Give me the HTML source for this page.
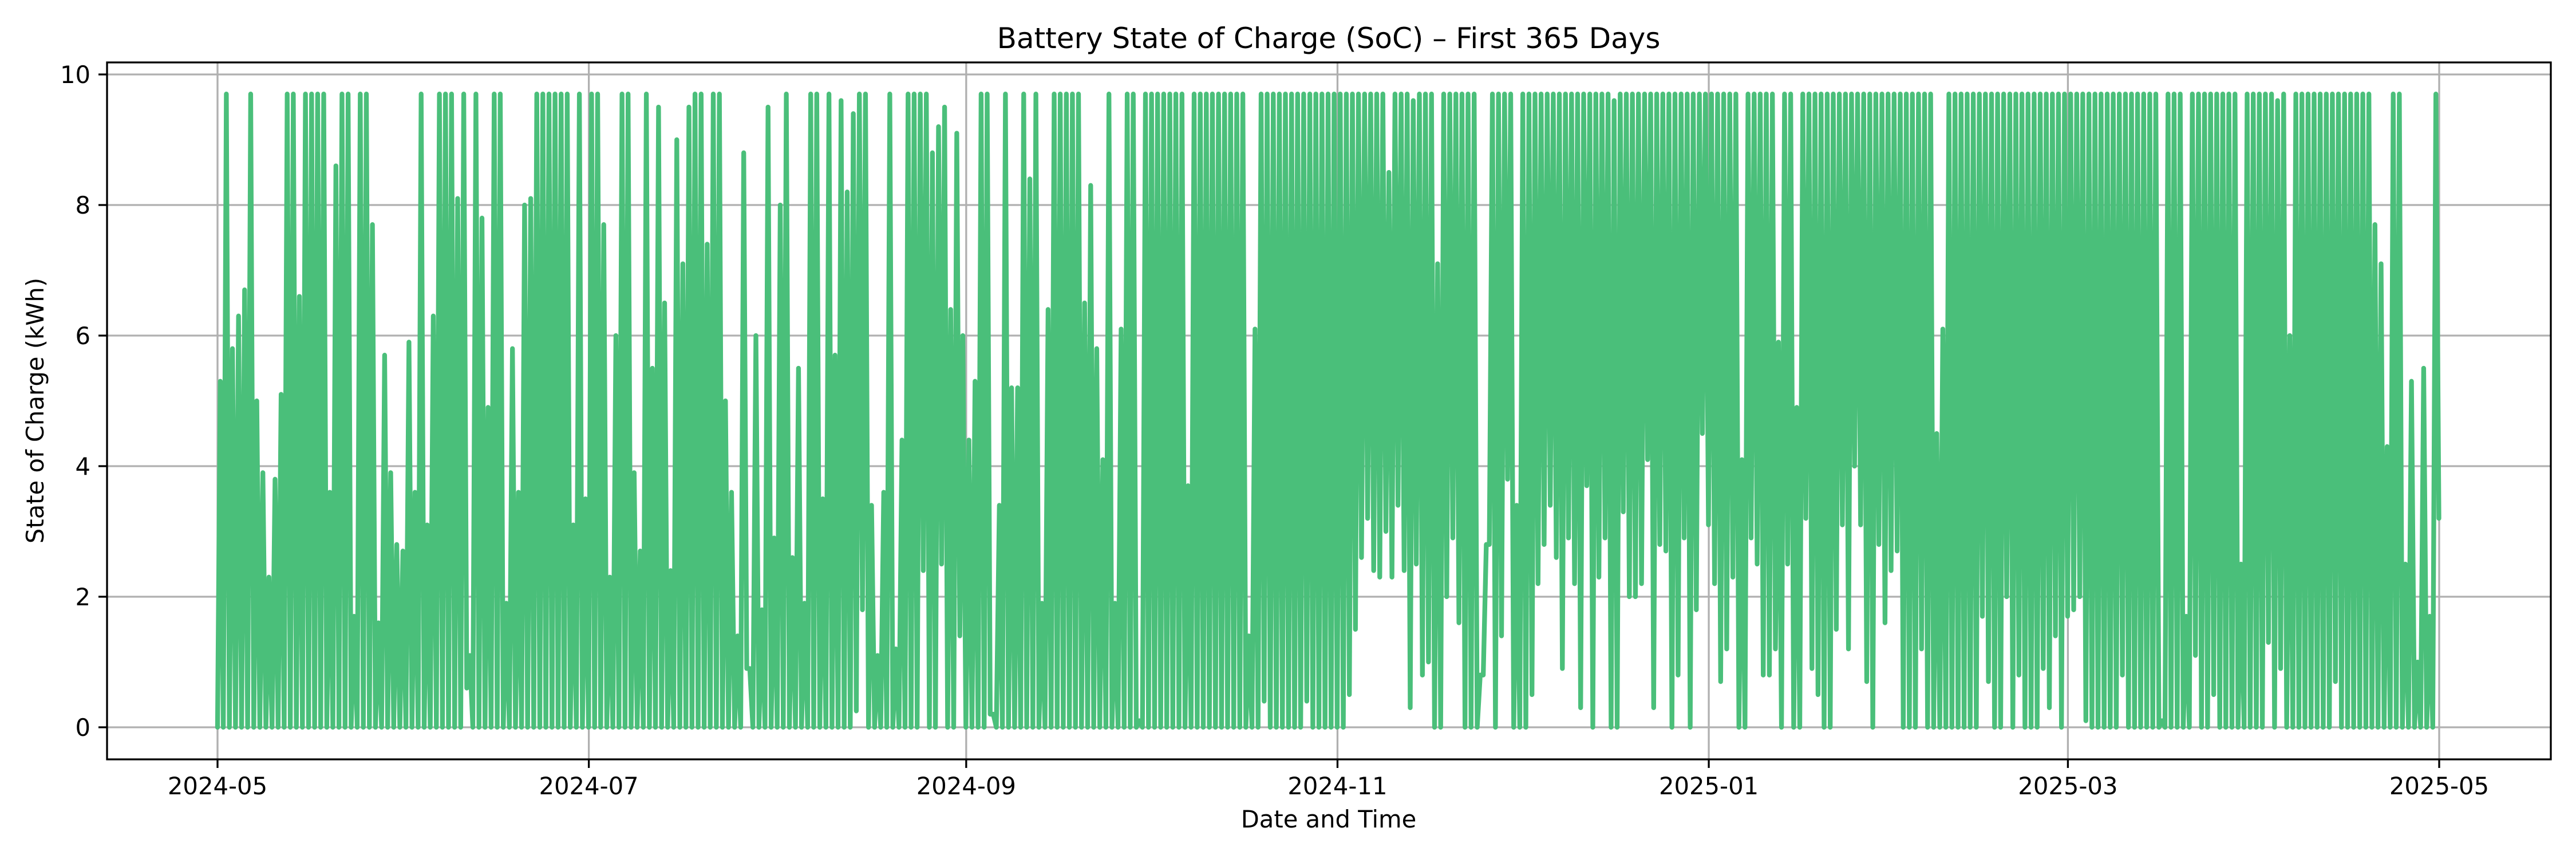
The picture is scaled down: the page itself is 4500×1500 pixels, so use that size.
<!DOCTYPE html>
<html><head><meta charset="utf-8">
<style>
html,body{margin:0;padding:0;background:#fff;}
svg{display:block;font-family:"DejaVu Sans","Liberation Sans",sans-serif;}
</style></head>
<body>
<svg id="chart" width="4500" height="1500" viewBox="0 0 4500 1500" xmlns="http://www.w3.org/2000/svg">
  <rect x="0" y="0" width="4500" height="1500" fill="#ffffff"/>
  <g id="grid"></g>
  <g id="series"></g>
  <rect x="187" y="109" width="4269" height="1217" fill="none" stroke="#000" stroke-width="3.3"/>
  <g id="ticks"></g>
  <text x="2321" y="84" font-size="50" text-anchor="middle">Battery State of Charge (SoC) – First 365 Days</text>
  <text x="2321" y="1445" font-size="41.7" text-anchor="middle">Date and Time</text>
  <text x="0" y="0" font-size="41.7" text-anchor="middle" transform="translate(76,717) rotate(-90)">State of Charge (kWh)</text>
</svg>
<script>
const dailyPeak = [
5.3,9.7,5.8,6.3,6.7,9.7,5.0,3.9,2.3,3.8,
5.1,9.7,9.7,6.6,9.7,9.7,9.7,9.7,3.6,8.6,
9.7,9.7,1.7,9.7,9.7,7.7,1.6,5.7,3.9,2.8,
2.7,5.9,3.6,9.7,3.1,6.3,9.7,9.7,9.7,8.1,
9.7,1.1,9.7,7.8,4.9,9.7,9.7,1.9,5.8,3.6,
8.0,8.1,9.7,9.7,9.7,9.7,9.7,9.7,3.1,9.7,
3.5,9.7,9.7,7.7,2.3,6.0,9.7,9.7,3.9,2.7,
9.7,5.5,9.5,6.5,2.4,9.0,7.1,9.5,9.7,9.7,
7.4,9.7,9.7,5.0,3.6,1.4,8.8,0.9,6.0,1.8,
9.5,2.9,8.0,9.7,2.6,5.5,1.9,9.7,9.7,3.5,
9.7,5.7,9.6,8.2,9.4,9.7,9.7,3.4,1.1,3.6,
9.7,1.2,4.4,9.7,9.7,9.7,9.7,8.8,9.2,9.5,
6.4,9.1,6.0,4.4,5.3,9.7,9.7,0.2,3.4,9.7,
5.2,5.2,9.7,8.4,9.7,1.9,6.4,9.7,9.7,9.7,
9.7,9.7,6.5,8.3,5.8,4.1,9.7,1.9,6.1,9.7,
9.7,0.1,9.7,9.7,9.7,9.7,9.7,9.7,9.7,3.7,
9.7,9.7,9.7,9.7,9.7,9.7,9.7,9.7,9.7,1.4,
6.1,9.7,9.7,9.7,9.7,9.7,9.7,9.7,9.7,9.7,
9.7,9.7,9.7,9.7,9.7,9.7,9.7,9.7,9.7,9.7,
9.7,9.7,8.5,9.7,9.7,9.7,9.6,9.7,9.7,9.7,
7.1,9.7,9.7,9.7,9.7,9.7,9.7,0.8,2.8,9.7,
9.7,9.7,9.7,3.4,9.7,9.7,9.7,9.7,9.7,9.7,
9.7,9.7,9.7,9.7,9.7,9.7,9.7,9.7,9.7,9.6,
9.7,9.7,9.7,9.7,9.7,9.7,9.7,9.7,9.7,9.7,
9.7,9.7,9.7,9.7,9.7,9.7,9.7,9.7,9.7,9.7,
4.1,9.7,9.7,9.7,9.7,9.7,5.9,9.7,9.7,4.9,
9.7,9.7,9.7,9.7,9.7,9.7,9.7,9.7,9.7,9.7,
9.7,9.7,9.7,9.7,9.7,9.7,9.7,9.7,9.7,9.7,
9.7,9.7,4.5,6.1,9.7,9.7,9.7,9.7,9.7,9.7,
9.7,9.7,9.7,9.7,9.7,9.7,9.7,9.7,9.7,9.7,
9.7,9.7,9.7,9.7,9.7,9.7,9.7,9.7,9.7,9.7,
9.7,9.7,9.7,9.7,9.7,9.7,9.7,9.7,9.7,0.1,
9.7,9.7,9.7,1.7,9.7,9.7,9.7,9.7,9.7,9.7,
9.7,9.7,2.5,9.7,9.7,9.7,9.7,9.7,9.6,9.7,
6.0,9.7,9.7,9.7,9.7,9.7,9.7,9.7,9.7,9.7,
9.7,9.7,9.7,9.7,7.7,7.1,4.3,9.7,9.7,2.5,
5.3,1.0,5.5,1.7,9.7
];
const dailyTrough = [
0,0,0,0,0,0,0,0,0,0,
0,0,0,0,0,0,0,0,0,0,
0,0,0,0,0,0,0,0,0,0,
0,0,0,0,0,0,0,0,0,0,
0.6,0,0,0,0,0,0,0,0,0,
0,0,0,0,0,0,0,0,0,0,
0,0,0,0,0,0,0,0,0,0,
0,0,0,0,0,0,0,0,0,0,
0,0,0,0,0,0,0.9,0,0,0,
0,0,0,0,0,0,0,0,0,0,
0,0,0,0,0.25,1.8,0,0,0,0,
0,0,0,0,0,2.4,0,0,2.5,0,
0,1.4,0,0,0,0,0.2,0,0,0,
0,0,0,0,0,0,0,0,0,0,
0,0,0,0,0,0,0,0,0,0,
0,0,0,0,0,0,0,0,0,0,
0,0,0,0,0,0,0,0,0,0,
0,0.4,0,0,0,0,0,0,0.4,0,
0,0,0,0,0,0.5,1.5,2.6,3.2,2.4,
2.3,3.0,2.3,3.4,2.4,0.3,2.5,0.8,1.0,0,
0,2.0,2.9,1.6,0,0,0,0.8,2.8,0,
1.4,3.8,0,0,0,0.5,2.2,2.8,3.4,2.6,
0.9,2.9,2.2,0.3,3.7,0,2.3,2.9,0,0,
3.3,2.0,2.0,2.2,4.1,0.3,2.8,2.7,0,0.8,
2.9,0,1.8,4.5,3.1,2.2,0.7,1.2,2.3,0,
0,2.9,2.5,0.8,0.8,1.2,0,2.5,0,0,
3.2,0.9,0.5,0,0,1.5,3.1,1.2,4.0,3.1,
0.7,0,2.8,1.6,2.4,2.7,0,0,0,1.2,
0,0,0,0,0,0,0,0,0,1.7,
0.7,0,0,2.0,0,0.8,0,0,0,0.9,
0.3,1.4,0,1.7,1.8,2.0,0.1,0,0,0,
0,0,0.8,0,0,0,0,0,0,0,
0,0,0,0,1.1,0,0,0.5,0,0,
0,0,0,0,0,0,1.3,0,0.9,0,
0,0,0,0,0,0,0,0.7,0,0,
0,0,0,0,0,0,0,0,0,0,
0,0,0,0,3.2
];
const yTicks = [0,2,4,6,8,10];
const xTickDays = [0,61,123,184,245,304,365];
const xTickLabels = ["2024-05","2024-07","2024-09","2024-11","2025-01","2025-03","2025-05"];

const NS = "http://www.w3.org/2000/svg";
const X0 = 380, PX_PER_DAY = (4261-380)/365;
const Y0 = 1270, PX_PER_UNIT = 114;
function xScale(day){ return X0 + day*PX_PER_DAY; }
function yScale(v){ return Y0 - v*PX_PER_UNIT; }
function mk(tag, attrs){ const e=document.createElementNS(NS,tag); for(const k in attrs) e.setAttribute(k,attrs[k]); return e; }

const grid=document.getElementById('grid'), ticks=document.getElementById('ticks'), series=document.getElementById('series');
yTicks.forEach(v=>{
  const y=yScale(v);
  const g=mk('line',{x1:187,x2:4456,y1:y,y2:y,stroke:'#b0b0b0','stroke-width':3.3});
  
  
  grid.appendChild(g);
  const t=mk('line',{x1:172,x2:187,y1:y,y2:y,stroke:'#000','stroke-width':3.3});
  
  
  ticks.appendChild(t);
  const l=mk('text',{x:158,y:y+15,'font-size':41.7,'text-anchor':'end'});
  l.textContent=String(v);
  
  
  ticks.appendChild(l);
});
xTickDays.forEach((d,i)=>{
  const x=xScale(d);
  const g=mk('line',{x1:x,x2:x,y1:109,y2:1326,stroke:'#b0b0b0','stroke-width':3.3});
  
  
  grid.appendChild(g);
  const t=mk('line',{x1:x,x2:x,y1:1326,y2:1341,stroke:'#000','stroke-width':3.3});
  
  
  ticks.appendChild(t);
  const l=mk('text',{x:x,y:1387,'font-size':41.7,'text-anchor':'middle'});
  l.textContent=xTickLabels[i];
  
  
  ticks.appendChild(l);
});
let dstr='M'+xScale(0).toFixed(1)+','+yScale(0).toFixed(1);
for(let d=0; d<dailyPeak.length; d++){
  dstr+=' L'+xScale(d+0.45).toFixed(1)+','+yScale(dailyPeak[d]).toFixed(1);
  dstr+=' L'+xScale(d+0.95).toFixed(1)+','+yScale(dailyTrough[d]).toFixed(1);
}
const p=mk('path',{d:dstr,fill:'none',stroke:'#4abf7a','stroke-width':8.3,'stroke-linejoin':'round','stroke-linecap':'round'});


series.appendChild(p);
</script>
</body></html>
